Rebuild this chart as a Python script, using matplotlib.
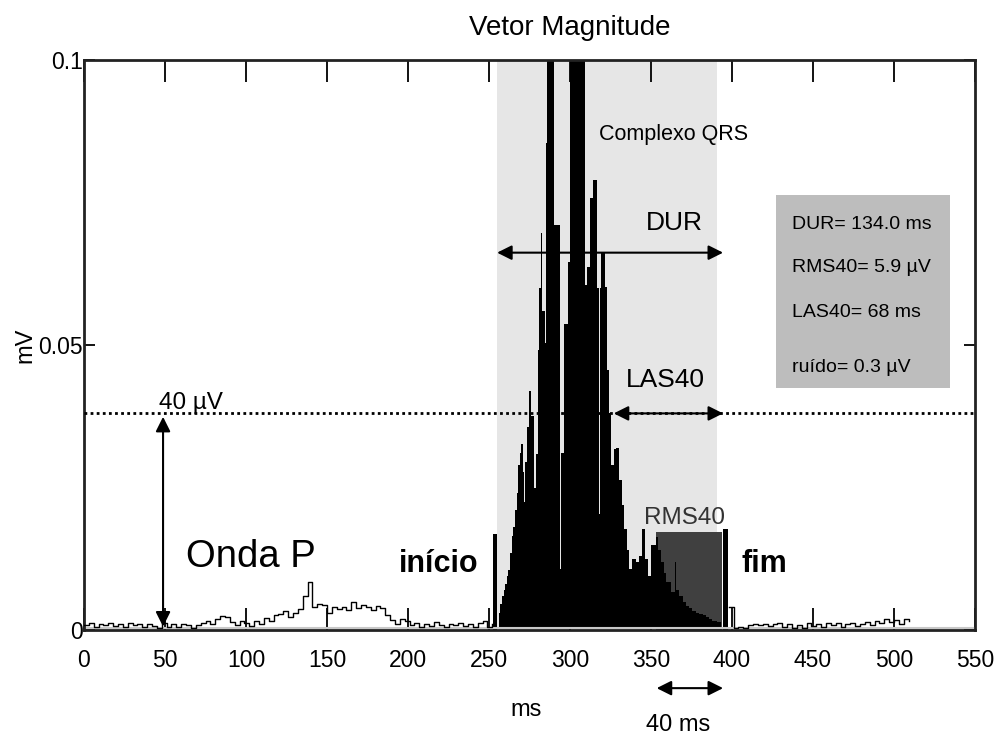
import matplotlib
matplotlib.use('Agg')
import matplotlib.pyplot as plt
import numpy as np

plt.rcParams['font.family'] = ['Liberation Sans', 'DejaVu Sans']

# ruido de base + onda P (amostrado a cada 3 ms)
pre_t = np.arange(0, 253, 3)
pre_v = [0.0008, 0.0012, 0.0006, 0.0011, 0.0009, 0.0013, 0.0007, 0.0010, 0.0006, 0.0012,
         0.0009, 0.0011, 0.0005, 0.0010, 0.0007, 0.0004, 0.0012, 0.0006, 0.0010, 0.0005,
         0.0011, 0.0008, 0.0004, 0.0009, 0.0012, 0.0016, 0.0011, 0.0019, 0.0025, 0.0023,
         0.0014, 0.0009, 0.0016, 0.0012, 0.0007, 0.0015, 0.0011, 0.0021, 0.0016, 0.0026,
         0.0028, 0.0033, 0.0023, 0.0030, 0.0037, 0.0060,
         0.0085, 0.0040, 0.0046, 0.0044, 0.0030, 0.0040, 0.0036, 0.0041, 0.0035, 0.0050,
         0.0038, 0.0044, 0.0040, 0.0035, 0.0042, 0.0038, 0.0027, 0.0017, 0.0010, 0.0020,
         0.0016, 0.0008, 0.0012, 0.0005, 0.0010, 0.0007, 0.0014, 0.0009, 0.0006, 0.0011,
         0.0008, 0.0012, 0.0007, 0.0010, 0.0006, 0.0012, 0.0016, 0.0005, 0.0010]

# ruido depois do QRS
post_t = np.arange(398, 510, 3)
post_v = [0.0040, 0.0004, 0.0006, 0.0003, 0.0009, 0.0011, 0.0008, 0.0011, 0.0007, 0.0010,
          0.0012, 0.0006, 0.0010, 0.0004, 0.0009, 0.0003, 0.0013, 0.0007, 0.0011, 0.0005,
          0.0012, 0.0008, 0.0013, 0.0006, 0.0010, 0.0012, 0.0007, 0.0011, 0.0014, 0.0009,
          0.0016, 0.0012, 0.0020, 0.0014, 0.0017, 0.0011, 0.0020, 0.0015]

# complexo QRS (envelope)
qrs_t = [256, 257, 258, 259, 260, 261, 262, 263, 264, 265,
         266, 267, 268, 269, 270, 271, 271.7, 272.3, 273.5, 274.5,
         276, 277.5, 279, 280, 281, 282, 283, 284.3, 285, 286,
         290, 293.9, 294.5, 296.5, 298.5, 300, 309, 310.5, 312.5, 314.2,
         316.5, 317.7, 318.3, 319.3, 321.8, 322.6, 324, 325.5, 327, 328.4,
         330.2, 331.8, 333.3, 335, 336.4, 338.3, 340.5, 342.6, 344.4, 346,
         348, 350, 353, 354.5, 356.2, 357.8, 359.3, 362.3, 364.8, 365.6,
         367.3, 369.5, 371.6, 373.5, 375.3, 377.5, 379.6, 382, 384, 386,
         387.7, 390.7, 393]
qrs_v = [0.0030, 0.0045, 0.0060, 0.0070, 0.0080, 0.0095, 0.0105, 0.0135, 0.0165, 0.0180,
         0.0210, 0.0240, 0.0290, 0.0310, 0.0326, 0.0277, 0.0224, 0.0294, 0.0356, 0.0419,
         0.0375, 0.0250, 0.0308, 0.0492, 0.0600, 0.0697, 0.0560, 0.0504, 0.0855, 0.1300,
         0.0711, 0.0107, 0.0310, 0.0536, 0.0646, 0.1400, 0.0606, 0.0636, 0.0758, 0.0790,
         0.0600, 0.0203, 0.0600, 0.0662, 0.0601, 0.0457, 0.0380, 0.0290, 0.0317, 0.0320,
         0.0264, 0.0220, 0.0177, 0.0140, 0.0107, 0.0124, 0.0120, 0.0130, 0.0177, 0.0124,
         0.0095, 0.0150, 0.0163, 0.0140, 0.0120, 0.0100, 0.0084, 0.0067, 0.0120, 0.0070,
         0.0060, 0.0050, 0.0042, 0.0038, 0.0033, 0.0030, 0.0028, 0.0026, 0.0023, 0.0020,
         0.0016, 0.0014, 0.0006]

qrs_ini, qrs_fim = 255, 391
inicio_bar = (253.7, 0.0168)
fim_bar = (396, 0.0177)
rms40_ini, rms40_fim, rms40_h = 353, 394, 0.0172
limiar = 0.038
stats = ['DUR= 134.0 ms', 'RMS40= 5.9 \u00b5V', 'LAS40= 68 ms', 'ru\u00eddo= 0.3 \u00b5V']

fig = plt.figure(figsize=(10.06, 7.4), dpi=100)
ax = fig.add_axes([84 / 1006, 110 / 740, 891 / 1006, 570 / 740])

ax.axvspan(qrs_ini, qrs_fim, color='#e6e6e6', lw=0, zorder=0)
ax.add_patch(plt.Rectangle((rms40_ini, 0), rms40_fim - rms40_ini, rms40_h,
                           color='#404040', lw=0, zorder=1))

ax.fill_between(qrs_t, 0.0005, qrs_v, step='post', color='black', lw=0, zorder=2)
ax.bar([inicio_bar[0], fim_bar[0]], [inicio_bar[1], fim_bar[1]], width=2.8,
       color='black', zorder=2)
ax.plot(pre_t, pre_v, color='black', lw=1, drawstyle='steps-post', zorder=3)
ax.plot(post_t, post_v, color='black', lw=1, drawstyle='steps-post', zorder=3)
ax.axhline(0.0003, color='#c8c8c8', lw=1.5, zorder=2.5)

# linha de 40 uV
ax.axhline(limiar, color='black', lw=2, ls=(0, (1, 1.2)), zorder=3)

arrow = dict(arrowstyle='<|-|>', color='black', lw=1.5, mutation_scale=22, shrinkA=0, shrinkB=0)
ax.annotate('', xy=(48.8, 0.0006), xytext=(48.8, 0.0374), arrowprops=arrow, zorder=4)
ax.annotate('', xy=(255, 0.0662), xytext=(394.5, 0.0662), arrowprops=arrow, zorder=4)
ax.annotate('', xy=(327, limiar), xytext=(394.5, limiar), arrowprops=arrow, zorder=4)
ax.annotate('', xy=(353.5, -0.102), xytext=(394.5, -0.102), xycoords=ax.get_xaxis_transform(),
            arrowprops=arrow, annotation_clip=False)

ax.text(46.3, 0.0387, '40 \u00b5V', fontsize=17.5, va='baseline')
ax.text(63, 0.011, 'Onda P', fontsize=27.5, va='baseline')
ax.text(194.4, 0.0102, 'in\u00edcio', fontsize=22, fontweight='bold', va='baseline')
ax.text(405.6, 0.0102, 'fim', fontsize=22, fontweight='bold', va='baseline')
ax.text(364, 0.087, 'Complexo QRS', fontsize=15.5, ha='center', va='center')
ax.text(347, 0.0702, 'DUR', fontsize=19, va='baseline')
ax.text(334.6, 0.0427, 'LAS40', fontsize=19, va='baseline')
ax.text(345.7, 0.0186, 'RMS40', fontsize=17.5, va='baseline', color='#333333')

ax.add_patch(plt.Rectangle((427.2, 0.0424), 107.4, 0.034, color='#bdbdbd', lw=0, zorder=1))
for s, y in zip(stats, [0.0711, 0.0636, 0.0557, 0.0461]):
    ax.text(437, y, s, fontsize=14, va='center', zorder=4)

ax.text(367, -0.167, '40 ms', fontsize=17, ha='center', va='center',
        transform=ax.get_xaxis_transform())
ax.text(272.8, -0.14, 'ms', fontsize=17, ha='center', va='center',
        transform=ax.get_xaxis_transform())
fig.text(25 / 1006, 395 / 740, 'mV', fontsize=17, rotation=90, ha='center', va='center')
fig.text(570 / 1006, 712 / 740, 'Vetor Magnitude', fontsize=20, ha='center', va='center')

ax.set_xlim(0, 550)
ax.set_ylim(0, 0.1)
ax.set_xticks(np.arange(0, 551, 50))
ax.set_yticks([0, 0.05, 0.1])
ax.set_yticklabels(['0', '0.05', '0.1'])
ax.tick_params(axis='x', direction='in', length=16, width=1.3, top=True, labelsize=16.5, pad=14)
ax.tick_params(axis='y', direction='in', length=8, width=1.3, right=True, labelsize=16.5, pad=1)
for sp in ax.spines.values():
    sp.set_linewidth(2)
    sp.set_color('#222222')

fig.savefig('out.png', dpi=100)
